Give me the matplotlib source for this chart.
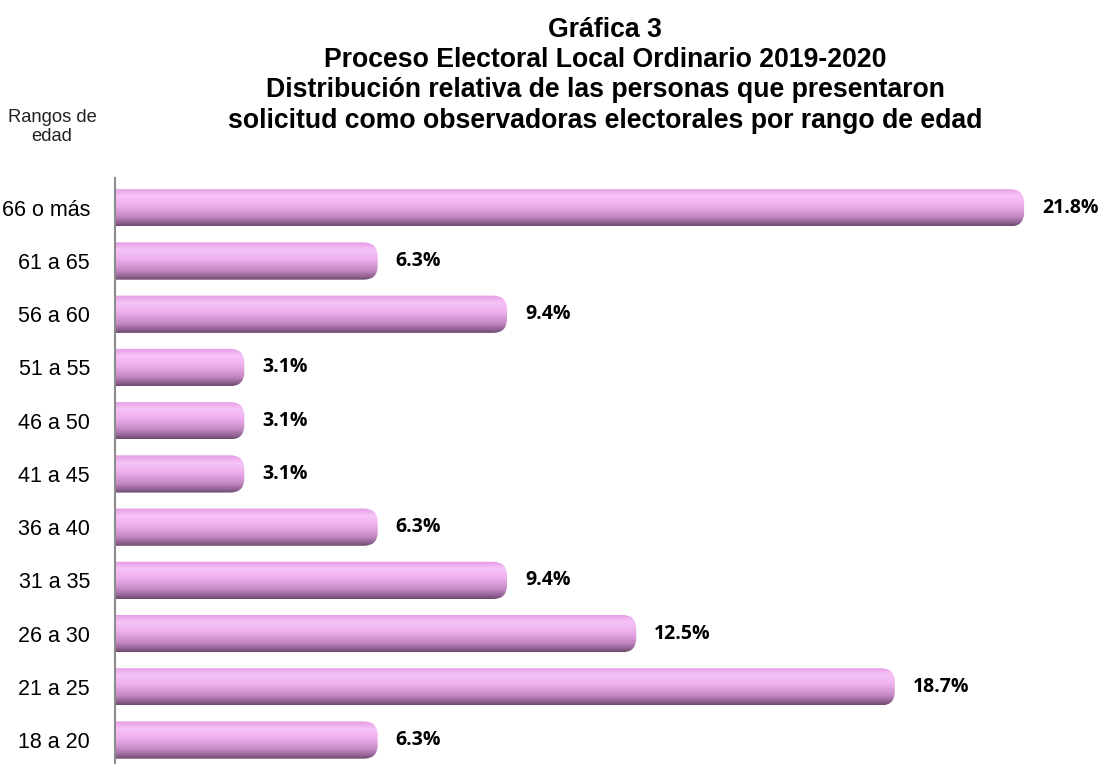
import matplotlib.pyplot as plt
import numpy as np
from matplotlib.patches import FancyBboxPatch
from matplotlib.colors import LinearSegmentedColormap

# Datos
rangos = ['18 a 20', '21 a 25', '26 a 30', '31 a 35', '36 a 40', '41 a 45',
          '46 a 50', '51 a 55', '56 a 60', '61 a 65', '66 o más']
porcentajes = [6.3, 18.7, 12.5, 9.4, 6.3, 3.1, 3.1, 3.1, 9.4, 6.3, 21.8]
etiquetas = ['6.3%', '18.7%', '12.5%', '9.4%', '6.3%', '3.1%', '3.1%',
             '3.1%', '9.4%', '6.3%', '21.8%']

titulo = ('Gráfica 3\nProceso Electoral Local Ordinario 2019-2020\n'
          'Distribución relativa de las personas que presentaron\n'
          'solicitud como observadoras electorales por rango de edad')

fig = plt.figure(figsize=(11.05, 7.64), dpi=100)
ax = fig.add_axes([115 / 1105, 0, 990 / 1105, 586 / 764])

xmax = 23.74
ax.set_xlim(0, xmax)
ax.set_ylim(-0.45, 10.56)

# Degradado vertical (arriba claro, abajo oscuro)
cmap = LinearSegmentedColormap.from_list('rosa', [
    (0.0, '#e59be5'), (0.2, '#f6c4f6'), (0.45, '#eeb0ee'),
    (0.75, '#c489c4'), (0.92, '#8f5f8f'), (1.0, '#6b4b6b')])
grad = np.linspace(0, 1, 100).reshape(-1, 1)

alto = 0.7
# unidades de datos por pixel
px_x = xmax / 990
px_y = (10.56 + 0.45) / 586
radio = 14 * px_x

for i, v in enumerate(porcentajes):
    y0 = i - alto / 2
    barra = FancyBboxPatch((-1, y0), v + 1, alto,
                           boxstyle=f'round,pad=0,rounding_size={radio}',
                           mutation_aspect=px_y / px_x,
                           facecolor='none', edgecolor='none')
    ax.add_patch(barra)
    im = ax.imshow(grad, cmap=cmap, aspect='auto',
                   extent=(-1, v, y0, y0 + alto), zorder=2)
    im.set_clip_path(barra)
    ax.text(v + 0.43, i, etiquetas[i], va='center', ha='left',
            fontsize=14, fontweight='bold', family='Open Sans')

ax.set_xlim(0, xmax)
ax.set_ylim(-0.45, 10.56)

ax.set_yticks(range(len(rangos)))
ax.set_yticklabels(rangos, fontsize=15.5, family='Liberation Sans')
ax.tick_params(axis='y', length=0, pad=18)
ax.set_xticks([])
for s in ['top', 'right', 'bottom']:
    ax.spines[s].set_visible(False)
ax.spines['left'].set_color('#8c8c8c')
ax.spines['left'].set_linewidth(1.5)

fig.text(605 / 1105, 1 - 17 / 764, titulo, ha='center', va='top',
         fontsize=19.2, fontweight='bold', family='Liberation Sans',
         linespacing=1.21)
fig.text(52 / 1105, 1 - 109 / 764, 'Rangos de\nedad', ha='center', va='top',
         fontsize=13.2, family='Liberation Sans', color='#222222',
         linespacing=1.12)

fig.savefig('out.png', dpi=100)
